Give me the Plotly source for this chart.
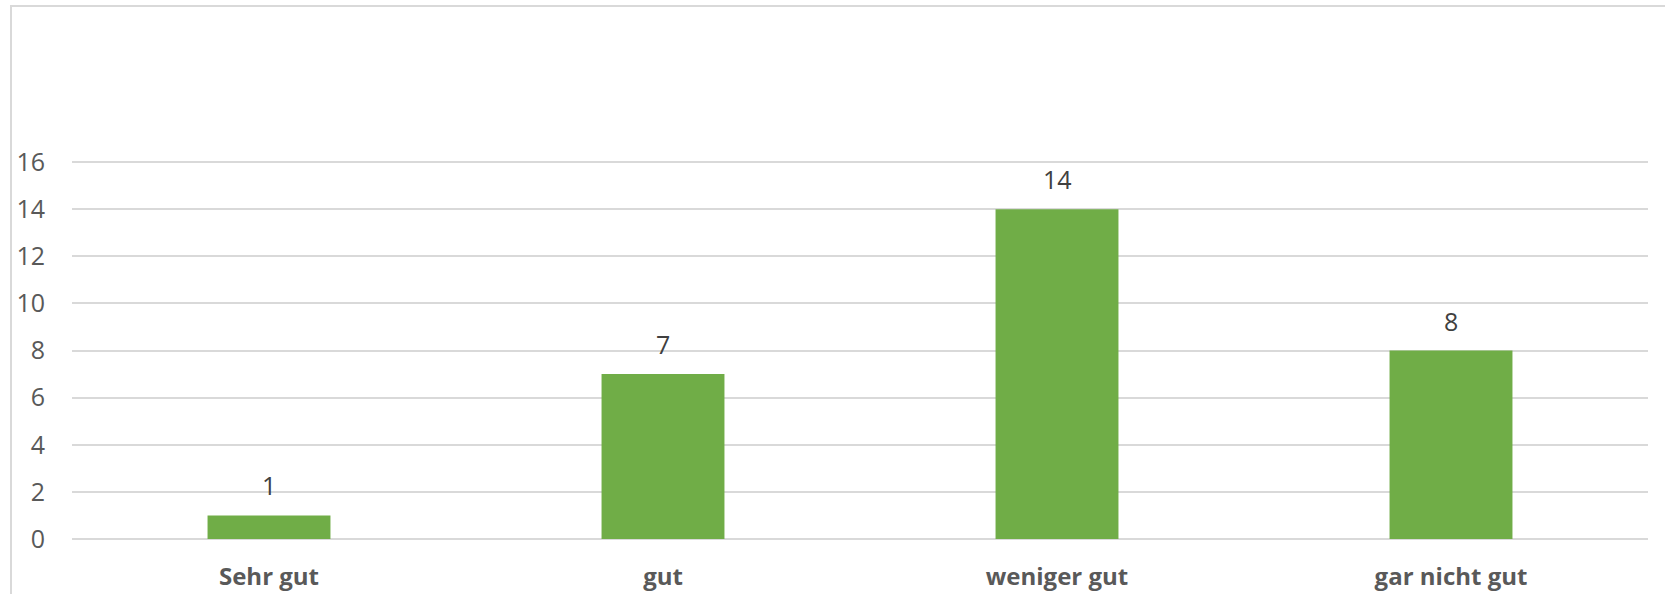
import plotly.graph_objects as go

# Survey answers and their counts
categories = ["Sehr gut", "gut", "weniger gut", "gar nicht gut"]
counts = [1, 7, 14, 8]
y_ticks = [0, 2, 4, 6, 8, 10, 12, 14, 16]

bar_color = "#70AD47"
grid_color = "#D9D9D9"
text_color = "#595959"
label_color = "#404040"
font_family = "Open Sans, Noto Sans, sans-serif"

fig = go.Figure()
fig.add_trace(go.Bar(
    x=categories,
    y=counts,
    marker=dict(color=bar_color, line=dict(width=0)),
    hoverinfo="x+y",
))

# value labels above each bar
for cat, val in zip(categories, counts):
    fig.add_annotation(
        x=cat, y=val, text=str(val), showarrow=False,
        xref="x", yref="y", yanchor="bottom", yshift=11,
        font=dict(family=font_family, size=25, color=label_color),
    )

# light frame around the chart area
fig.add_shape(
    type="rect", xref="paper", yref="paper",
    x0=-0.0387, x1=1.05, y0=-0.3, y1=(539 - 6) / 384,
    line=dict(color=grid_color, width=2), fillcolor="rgba(0,0,0,0)",
    layer="below",
)

fig.update_layout(
    width=1665, height=594,
    margin=dict(l=72, r=17, t=155, b=55),
    paper_bgcolor="white", plot_bgcolor="white",
    showlegend=False,
    bargap=0.688,
    font=dict(family=font_family, color=text_color),
)
fig.update_xaxes(
    type="category", automargin=False,
    showgrid=False, showline=False, zeroline=False, ticks="",
    tickfont=dict(family=font_family, size=24, color=text_color, weight="bold"),
    ticklabelstandoff=21,
)
fig.update_yaxes(
    range=[0, 16.3], tickvals=y_ticks, automargin=False,
    showgrid=True, gridcolor=grid_color, gridwidth=1.5,
    zeroline=True, zerolinecolor=grid_color, zerolinewidth=1.5,
    showline=False, ticks="",
    tickfont=dict(family=font_family, size=25, color=text_color),
    ticklabelstandoff=26,
)

fig.write_html("out.html")
